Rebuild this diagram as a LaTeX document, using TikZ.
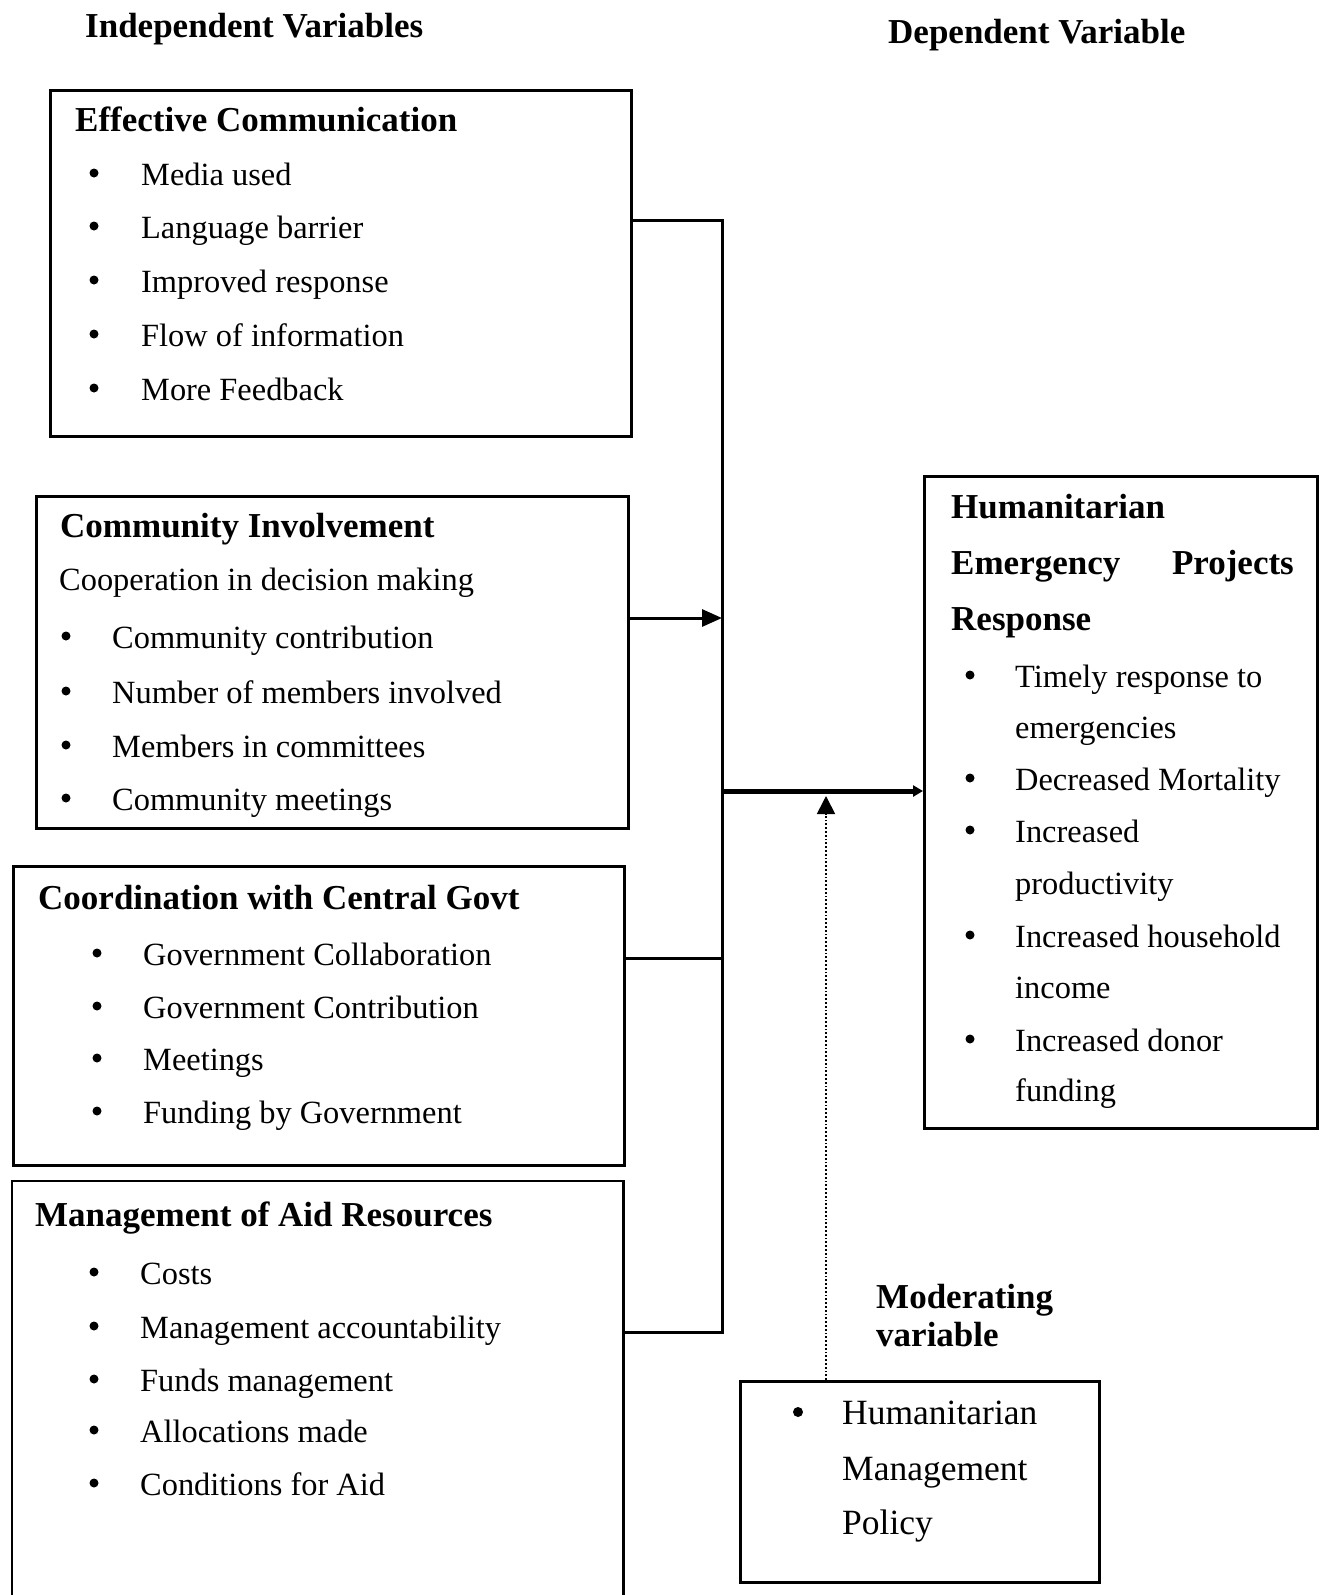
\documentclass[tikz,border=0pt]{standalone}
\usepackage{fontspec}
\setmainfont{Liberation Serif}
\usetikzlibrary{arrows.meta, positioning}

\begin{document}
\begin{tikzpicture}[x=1pt, y=-1pt,
	box/.style={draw, line width=2.5pt, anchor=north west, inner sep=0pt},
	head/.style={anchor=west, inner sep=0pt, text height=0.66em, text depth=0pt, yshift=-9pt,
		font=\fontsize{35}{40}\selectfont\bfseries},
	item/.style={anchor=west, inner sep=0pt, text height=0.66em, text depth=0pt, yshift=-9pt,
		font=\fontsize{32.4}{38}\selectfont},
	bigitem/.style={item, font=\fontsize{35.5}{40}\selectfont},
	link/.style={line width=3pt}]
			
			\useasboundingbox (0,0) rectangle (1328,1595);
			
			% Column titles
			\node[head] (indep) at (85,25) {Independent Variables};
			\node[head] (dep) at (888,31) {Dependent Variable};
			
			% EFFECTIVE COMMUNICATION
			\node[box, minimum width=581pt, minimum height=346pt] (effcomm) at (49,89) {};
			\node[head] (effhead) at (75,119) {Effective Communication};
			\foreach \y/\t [count=\i] in {173/Media used, 226/Language barrier,
				280/Improved response, 334/Flow of information, 388/More Feedback} {
				\fill (94,\y) circle (4.5);
				\node[item] (ec\i) at (141,\y) {\t};
			}
			
			% COMMUNITY INVOLVEMENT
			\node[box, minimum width=592pt, minimum height=332pt] (commin) at (35,495) {};
			\node[head] (cihead) at (60,525) {Community Involvement};
			\node[item] (cicoop) at (59,578) {Cooperation in decision making};
			\foreach \y/\t [count=\i] in {636/Community contribution,
				691/Number of members involved, 745/Members in committees,
				798/Community meetings} {
				\fill (66,\y) circle (4.5);
				\node[item] (ci\i) at (112,\y) {\t};
			}
			
			% COORDINATION WITH CENTRAL GOVT
			\node[box, minimum width=611pt, minimum height=299pt] (coord) at (12,865) {};
			\node[head] (cghead) at (38,897) {Coordination with Central Govt};
			\foreach \y/\t [count=\i] in {953/Government Collaboration,
				1006/Government Contribution, 1058/Meetings, 1111/Funding by Government} {
				\fill (97,\y) circle (4.5);
				\node[item] (cg\i) at (143,\y) {\t};
			}
			
			% MANAGEMENT OF AID RESOURCES (open at the bottom)
			\node[anchor=north west, inner sep=0pt, minimum width=611pt, minimum height=414pt] (mgmt) at (12,1181) {};
			\draw[line width=2.5pt] (mgmt.south west) |- (mgmt.north east) -- (mgmt.south east);
			\node[head] (mahead) at (35,1214) {Management of Aid Resources};
			\foreach \y/\t [count=\i] in {1272/Costs, 1326/Management accountability,
				1379/Funds management, 1430/Allocations made, 1483/Conditions for Aid} {
				\fill (94,\y) circle (4.5);
				\node[item] (ma\i) at (140,\y) {\t};
			}
			
			% DEPENDENT VARIABLE
			\node[box, minimum width=393pt, minimum height=652pt] (response) at (923,475) {};
			\node[head] (rhead1) at (951,506) {Humanitarian};
			\node[head] (rhead2) at (951,562) {Emergency};
			\node[head, anchor=east] (rhead3) at (1294,562) {Projects};
			\node[head] (rhead4) at (951,618) {Response};
			\foreach \y in {675,778,830,935,1039}
				\fill (970,\y) circle (4.5);
			\foreach \y/\t [count=\i] in {675/Timely response to, 726/emergencies,
				778/Decreased Mortality, 830/Increased, 882/productivity,
				935/Increased household, 986/income, 1039/Increased donor, 1089/funding} {
				\node[item] (re\i) at (1015,\y) {\t};
			}
			
			% MODERATING VARIABLE
			\node[head] (modhead1) at (876,1296) {Moderating};
			\node[head] (modhead2) at (876,1334) {variable};
			\node[box, minimum width=359pt, minimum height=201pt] (policy) at (739,1380) {};
			\fill (798,1412) circle (5);
			\node[bigitem] (po1) at (842,1412) {Humanitarian};
			\node[bigitem] (po2) at (842,1468) {Management};
			\node[bigitem] (po3) at (842,1522) {Policy};
			
			% Connector trunk
			\coordinate (trunktop) at (722,220);
			\coordinate (trunkbot) at (722,1332);
			\coordinate (ciend) at (722,618);
			\coordinate (cgend) at (722,958);
			\coordinate (joint) at (722,791);
			\coordinate (modin) at (826,796);
			
			\draw[link] (effcomm.east |- trunktop) -- (trunktop) -- (trunkbot) -- (mgmt.east |- trunkbot);
			\draw[link, -{Triangle[length=20pt,width=17pt]}] (commin.east |- ciend) -- (ciend);
			\draw[link] (coord.east |- cgend) -- (cgend);
			
			% Main arrow to dependent variable
			\draw[line width=5pt, -{Triangle[length=10pt,width=11pt]}] (joint) -- (response.west |- joint);
			
			% Moderating arrow (dotted)
			\draw[line width=1.8pt, dotted, -{Triangle[length=18pt,width=18pt]}] (policy.north -| modin) -- (modin);
			
		\end{tikzpicture}
\end{document}
